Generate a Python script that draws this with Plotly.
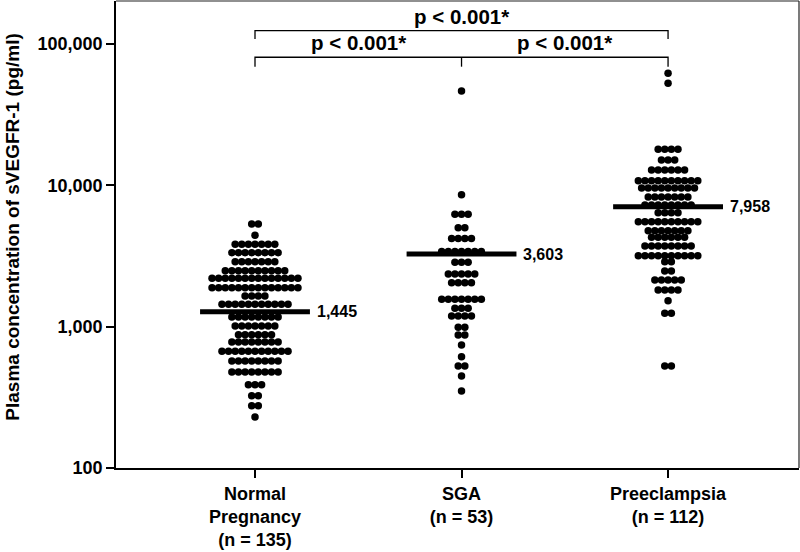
import math
import plotly.graph_objects as go

# ---- data ----
group_labels = ["Normal<br>Pregnancy<br>(n = 135)", "SGA<br>(n = 53)", "Preeclampsia<br>(n = 112)"]

normal_row_values = [5330, 4434, 3830, 3339, 2884, 2490, 2200, 1888, 1649, 1440, 1171,
                     1011, 878, 779, 670, 572, 478, 389, 325, 276, 230]
normal_row_counts = [2, 1, 7, 8, 7, 10, 14, 14, 4, 11, 8, 7, 6, 8, 11, 8, 8, 3, 2, 2, 1]

sga_row_values = [46560, 8590, 6243, 5017, 4208, 3405, 2856, 2360, 2048, 1563, 1350,
                  1190, 990, 874, 742, 613, 527, 448, 351]
sga_row_counts = [1, 1, 3, 2, 4, 7, 3, 5, 4, 7, 3, 4, 2, 2, 1, 1, 2, 1, 1]

pe_row_values = [62130, 52780, 18010, 15120, 12850, 10790, 9585, 8279, 7267, 6410, 5536,
                 4779, 4292, 3726, 3179, 2884, 2479, 2140, 1818, 1528, 1244, 527]
pe_row_counts = [1, 1, 4, 3, 6, 10, 9, 7, 8, 4, 10, 7, 6, 8, 10, 2, 2, 5, 4, 1, 2, 2]

center_values = [1276, 3266, 7063]
center_labels = ["1,445", "3,603", "7,958"]

y_tick_values = [100, 1000, 10000, 100000]
y_tick_labels = ["100", "1,000", "10,000", "100,000"]

p_text = "p < 0.001*"

# ---- styling constants ----
DOT_PITCH = 0.032      # horizontal spacing of swarm dots (x units)
HALF_LINE = 0.266      # half width of the central line
FONT = "Liberation Sans, Arial, Helvetica, sans-serif"

fig = go.Figure()

groups = [(normal_row_values, normal_row_counts),
          (sga_row_values, sga_row_counts),
          (pe_row_values, pe_row_counts)]

for gi, (vals, counts) in enumerate(groups):
    xs, ys = [], []
    for v, n in zip(vals, counts):
        for i in range(n):
            xs.append(gi + (i - (n - 1) / 2) * DOT_PITCH)
            ys.append(v)
    fig.add_trace(go.Scatter(x=xs, y=ys, mode="markers",
                             marker=dict(size=7.5, color="black"),
                             showlegend=False, hoverinfo="y"))

# central lines
for gi, v in enumerate(center_values):
    fig.add_trace(go.Scatter(x=[gi - HALF_LINE, gi + HALF_LINE], y=[v, v], mode="lines",
                             line=dict(color="black", width=5),
                             showlegend=False, hoverinfo="skip"))
    fig.add_annotation(x=gi + HALF_LINE, y=math.log10(v), text=center_labels[gi],
                       showarrow=False, xanchor="left", yanchor="middle", xshift=5,
                       font=dict(family=FONT, size=16, color="black", weight="bold"))

# significance brackets
upper_bar, upper_tip = 124500, 108700
lower_bar, lower_tip = 80700, 69200
bracket_style = dict(color="black", width=1.3)
fig.add_trace(go.Scatter(x=[0, 0, 2, 2], y=[upper_tip, upper_bar, upper_bar, upper_tip],
                         mode="lines", line=bracket_style, showlegend=False, hoverinfo="skip"))
fig.add_trace(go.Scatter(x=[0, 0, 2, 2], y=[lower_tip, lower_bar, lower_bar, lower_tip],
                         mode="lines", line=bracket_style, showlegend=False, hoverinfo="skip"))
fig.add_trace(go.Scatter(x=[1, 1], y=[lower_bar, lower_tip],
                         mode="lines", line=bracket_style, showlegend=False, hoverinfo="skip"))

pfont = dict(family=FONT, size=20.5, color="black", weight="bold")
fig.add_annotation(x=1, y=math.log10(upper_bar), text=p_text, showarrow=False,
                   yanchor="bottom", yshift=1, font=pfont)
fig.add_annotation(x=0.5, y=math.log10(lower_bar), text=p_text, showarrow=False,
                   yanchor="bottom", yshift=1, font=pfont)
fig.add_annotation(x=1.5, y=math.log10(lower_bar), text=p_text, showarrow=False,
                   yanchor="bottom", yshift=1, font=pfont)

# y-axis title
fig.add_annotation(xref="paper", yref="paper", x=-0.152, y=0.515,
                   text="Plasma concentration of sVEGFR-1 (pg/ml)", textangle=-90,
                   showarrow=False, xanchor="center", yanchor="middle",
                   font=dict(family=FONT, size=19, color="black", weight="bold"))

# top and right frame lines
fig.add_shape(type="line", xref="paper", yref="paper", x0=0, x1=1, y0=1, y1=1,
              line=dict(color="#222", width=1.2))
fig.add_shape(type="line", xref="paper", yref="paper", x0=1, x1=1, y0=0, y1=1,
              line=dict(color="#222", width=1.2))

fig.update_layout(
    width=800, height=552,
    margin=dict(l=116, r=1, t=1, b=84),
    plot_bgcolor="white", paper_bgcolor="white",
    font=dict(family=FONT, color="black"),
    xaxis=dict(range=[-0.673, 2.634], tickvals=[0, 1, 2], ticktext=group_labels,
               showline=True, linecolor="black", linewidth=1.8, ticks="outside",
               ticklen=8, tickwidth=1.5, tickcolor="black", showgrid=False, zeroline=False,
               tickfont=dict(family=FONT, size=18, color="black", weight="bold")),
    yaxis=dict(type="log", range=[2, 5.305], tickvals=y_tick_values, ticktext=y_tick_labels,
               showline=True, linecolor="black", linewidth=1.8, ticks="outside",
               ticklen=8, tickwidth=1.5, tickcolor="black", showgrid=False, zeroline=False,
               tickfont=dict(family=FONT, size=18, color="black", weight="bold")),
)

fig.write_html("out.html", config={"displayModeBar": False},
               post_script="document.body.style.margin='0px';document.body.style.overflow='hidden';")
